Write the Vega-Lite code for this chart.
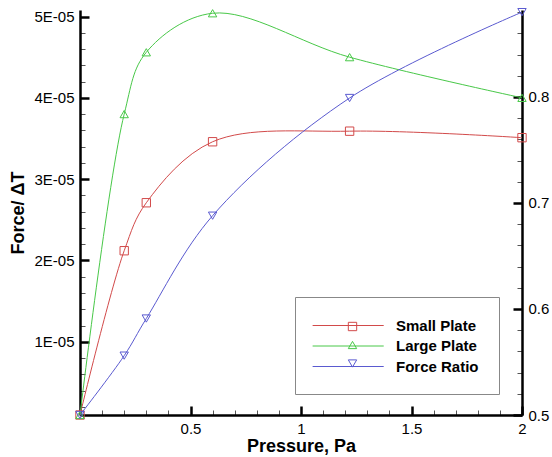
{
  "$schema": "https://vega.github.io/schema/vega-lite/v6.json",
  "width": 442,
  "height": 405,
  "autosize": {"type": "none"},
  "padding": {"left": 80, "top": 10, "right": 30, "bottom": 42},
  "background": "white",
  "config": {
    "view": {"stroke": null},
    "font": "Liberation Sans",
    "axis": {
      "domainColor": "black",
      "domainWidth": 2.5,
      "grid": false,
      "labelFont": "Liberation Sans",
      "labelFontSize": 15,
      "labelColor": "black",
      "titleFont": "Liberation Sans",
      "titleFontSize": 18,
      "titleFontWeight": "bold",
      "titleColor": "black",
      "labelPadding": 15
    }
  },
  "data": {
    "values": [
      {"series": "Small Plate", "pressure": 0, "value": 0.000001},
      {"series": "Small Plate", "pressure": 0.2, "value": 0.0000212},
      {"series": "Small Plate", "pressure": 0.3, "value": 0.0000271},
      {"series": "Small Plate", "pressure": 0.6, "value": 0.0000346},
      {"series": "Small Plate", "pressure": 1.22, "value": 0.0000359},
      {"series": "Small Plate", "pressure": 2, "value": 0.0000351},
      {"series": "Large Plate", "pressure": 0, "value": 0.000001},
      {"series": "Large Plate", "pressure": 0.2, "value": 0.000038},
      {"series": "Large Plate", "pressure": 0.3, "value": 0.0000456},
      {"series": "Large Plate", "pressure": 0.6, "value": 0.0000504},
      {"series": "Large Plate", "pressure": 1.22, "value": 0.000045},
      {"series": "Large Plate", "pressure": 2, "value": 0.00004},
      {"series": "Force Ratio", "pressure": 0, "value": 0.5},
      {"series": "Force Ratio", "pressure": 0.2, "value": 0.556},
      {"series": "Force Ratio", "pressure": 0.3, "value": 0.591},
      {"series": "Force Ratio", "pressure": 0.6, "value": 0.688},
      {"series": "Force Ratio", "pressure": 1.22, "value": 0.799},
      {"series": "Force Ratio", "pressure": 2, "value": 0.88}
    ]
  },
  "encoding": {
    "x": {
      "field": "pressure",
      "type": "quantitative",
      "scale": {"domain": [0, 2], "nice": false, "zero": false},
      "axis": {
        "title": "Pressure, Pa",
        "titlePadding": -3,
        "values": [0.1, 0.2, 0.3, 0.4, 0.5, 0.6, 0.7, 0.8, 0.9, 1, 1.1, 1.2, 1.3, 1.4, 1.5, 1.6, 1.7, 1.8, 1.9, 2],
        "labelExpr": "abs(datum.value*2 - round(datum.value*2)) < 0.001 ? format(datum.value, '') : ''",
        "tickSize": {"condition": {"test": "abs(datum.value*2 - round(datum.value*2)) < 0.001", "value": -9}, "value": -5},
        "tickWidth": {"condition": {"test": "abs(datum.value*2 - round(datum.value*2)) < 0.001", "value": 2.5}, "value": 1},
        "tickColor": {"condition": {"test": "abs(datum.value*2 - round(datum.value*2)) < 0.001", "value": "black"}, "value": "#555"},
        "labelFlush": false,
        "labelOverlap": false
      }
    }
  },
  "layer": [
    {
      "transform": [{"filter": "datum.series !== 'Force Ratio'"}],
      "encoding": {
        "y": {
          "field": "value",
          "type": "quantitative",
          "scale": {"domain": [0.000001, 0.0000508], "nice": false, "zero": false},
          "axis": {
            "orient": "left",
            "title": "Force/ ΔT",
            "titlePadding": 6,
            "values": [0.000002, 0.000004, 0.000006, 0.000008, 0.00001, 0.000012, 0.000014, 0.000016, 0.000018, 0.00002, 0.000022, 0.000024, 0.000026, 0.000028, 0.00003, 0.000032, 0.000034, 0.000036, 0.000038, 0.00004, 0.000042, 0.000044, 0.000046, 0.000048, 0.00005],
            "labelExpr": "abs(datum.value*1e5 - round(datum.value*1e5)) < 0.001 ? round(datum.value*1e5) + 'E-05' : ''",
            "tickSize": {"condition": {"test": "abs(datum.value*1e5 - round(datum.value*1e5)) < 0.001", "value": -9}, "value": -5},
            "tickWidth": {"condition": {"test": "abs(datum.value*1e5 - round(datum.value*1e5)) < 0.001", "value": 2.5}, "value": 1},
            "tickColor": {"condition": {"test": "abs(datum.value*1e5 - round(datum.value*1e5)) < 0.001", "value": "black"}, "value": "#555"},
            "labelOverlap": false,
            "labelFlush": false
          }
        }
      },
      "layer": [
        {
          "mark": {"type": "line", "interpolate": "catmull-rom", "strokeWidth": 1},
          "encoding": {
            "stroke": {
              "field": "series", "type": "nominal",
              "sort": ["Small Plate", "Large Plate", "Force Ratio"],
              "scale": {"range": ["#d24a4a", "#48c848", "#5a5ad0"]},
              "legend": {
                "title": null, "orient": "none", "legendX": 232, "legendY": 306, "padding": 0,
                "strokeColor": "transparent", "fillColor": "transparent", "symbolType": "M-1,0H7", "symbolSize": 316, "symbolStrokeWidth": 1,
                "labelFont": "Liberation Sans", "labelFontSize": 15, "labelFontWeight": "bold", "labelColor": "black",
                "labelOffset": 65, "rowPadding": 2.5
              }
            }
          }
        },
        {
          "mark": {"type": "point", "filled": false, "size": 70, "strokeWidth": 1, "opacity": 1},
          "encoding": {
            "color": {
              "field": "series", "type": "nominal",
              "scale": {"domain": ["Small Plate", "Large Plate", "Force Ratio"], "range": ["#d24a4a", "#48c848", "#5a5ad0"]},
              "legend": {
                "title": null, "orient": "none", "legendX": 215, "legendY": 287, "padding": 22,
                "strokeColor": "#888", "fillColor": "transparent", "symbolSize": 70, "symbolStrokeWidth": 1,
                "symbolFillColor": "white", "symbolOffset": 28, "symbolOpacity": 1,
                "labelFont": "Liberation Sans", "labelFontSize": 15, "labelFontWeight": "bold", "labelOpacity": 0,
                "labelOffset": 34, "rowPadding": 2.5
              }
            },
            "shape": {
              "field": "series", "type": "nominal",
              "scale": {"domain": ["Small Plate", "Large Plate", "Force Ratio"], "range": ["square", "triangle-up", "triangle-down"]},
              "legend": {
                "title": null, "orient": "none", "legendX": 215, "legendY": 287, "padding": 22,
                "strokeColor": "#888", "fillColor": "transparent", "symbolSize": 70, "symbolStrokeWidth": 1,
                "symbolFillColor": "white", "symbolOffset": 28, "symbolOpacity": 1,
                "labelFont": "Liberation Sans", "labelFontSize": 15, "labelFontWeight": "bold", "labelOpacity": 0,
                "labelOffset": 34, "rowPadding": 2.5
              }
            }
          }
        }
      ]
    },
    {
      "transform": [{"filter": "datum.series === 'Force Ratio'"}],
      "encoding": {
        "y": {
          "field": "value",
          "type": "quantitative",
          "scale": {"domain": [0.5, 0.882], "nice": false, "zero": false},
          "axis": {
            "orient": "right",
            "title": null,
            "values": [0.5, 0.52, 0.54, 0.56, 0.58, 0.6, 0.62, 0.64, 0.66, 0.68, 0.7, 0.72, 0.74, 0.76, 0.78, 0.8, 0.82, 0.84, 0.86, 0.88],
            "labelExpr": "abs(datum.value*10 - round(datum.value*10)) < 0.001 ? format(datum.value, '.1f') : ''",
            "tickSize": {"condition": {"test": "abs(datum.value*10 - round(datum.value*10)) < 0.001", "value": -9}, "value": -5},
            "tickWidth": {"condition": {"test": "abs(datum.value*10 - round(datum.value*10)) < 0.001", "value": 2.5}, "value": 1},
            "tickColor": {"condition": {"test": "abs(datum.value*10 - round(datum.value*10)) < 0.001", "value": "black"}, "value": "#555"},
            "labelOverlap": false,
            "labelFlush": false
          }
        }
      },
      "layer": [
        {
          "mark": {"type": "line", "interpolate": "catmull-rom", "strokeWidth": 1},
          "encoding": {
            "stroke": {
              "field": "series", "type": "nominal",
              "sort": ["Small Plate", "Large Plate", "Force Ratio"],
              "scale": {"range": ["#d24a4a", "#48c848", "#5a5ad0"]},
              "legend": {
                "title": null, "orient": "none", "legendX": 232, "legendY": 306, "padding": 0,
                "strokeColor": "transparent", "fillColor": "transparent", "symbolType": "M-1,0H7", "symbolSize": 316, "symbolStrokeWidth": 1,
                "labelFont": "Liberation Sans", "labelFontSize": 15, "labelFontWeight": "bold", "labelColor": "black",
                "labelOffset": 65, "rowPadding": 2.5
              }
            }
          }
        },
        {
          "mark": {"type": "point", "filled": false, "size": 70, "strokeWidth": 1, "opacity": 1},
          "encoding": {
            "color": {
              "field": "series", "type": "nominal",
              "scale": {"domain": ["Small Plate", "Large Plate", "Force Ratio"], "range": ["#d24a4a", "#48c848", "#5a5ad0"]},
              "legend": {
                "title": null, "orient": "none", "legendX": 215, "legendY": 287, "padding": 22,
                "strokeColor": "#888", "fillColor": "transparent", "symbolSize": 70, "symbolStrokeWidth": 1,
                "symbolFillColor": "white", "symbolOffset": 28, "symbolOpacity": 1,
                "labelFont": "Liberation Sans", "labelFontSize": 15, "labelFontWeight": "bold", "labelOpacity": 0,
                "labelOffset": 34, "rowPadding": 2.5
              }
            },
            "shape": {
              "field": "series", "type": "nominal",
              "scale": {"domain": ["Small Plate", "Large Plate", "Force Ratio"], "range": ["square", "triangle-up", "triangle-down"]},
              "legend": {
                "title": null, "orient": "none", "legendX": 215, "legendY": 287, "padding": 22,
                "strokeColor": "#888", "fillColor": "transparent", "symbolSize": 70, "symbolStrokeWidth": 1,
                "symbolFillColor": "white", "symbolOffset": 28, "symbolOpacity": 1,
                "labelFont": "Liberation Sans", "labelFontSize": 15, "labelFontWeight": "bold", "labelOpacity": 0,
                "labelOffset": 34, "rowPadding": 2.5
              }
            }
          }
        }
      ]
    }
  ],
  "resolve": {"scale": {"y": "independent"}}
}
